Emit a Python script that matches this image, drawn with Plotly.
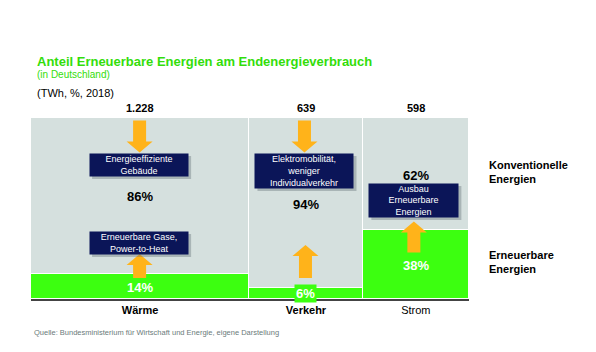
import plotly.graph_objects as go

# ---------------- data ----------------
sectors = ["Wärme", "Verkehr", "Strom"]
sector_labels = ["<b>Wärme</b>", "<b>Verkehr</b>", "Strom"]
totals_twh = [1228, 639, 598]
total_labels = ["1.228", "639", "598"]
renewable_pct = [14, 6, 38]
conventional_pct = [86, 94, 62]
measures_top = ["Energieeffiziente<br>Gebäude", "Elektromobilität,<br>weniger<br>Individualverkehr", None]
measures_bottom = ["Erneuerbare Gase,<br>Power-to-Heat", None, "Ausbau<br>Erneuerbare<br>Energien"]

# ---------------- styles ----------------
GREEN = "#3cff10"
GREY = "#d5e0de"
NAVY = "#0b1558"
ORANGE = "#ffb31a"
FONT = "Arial, Liberation Sans, sans-serif"

# cumulative positions for a Marimekko layout
lefts = []
acc = 0
for t in totals_twh:
    lefts.append(acc)
    acc += t
centers = [l + t / 2 for l, t in zip(lefts, totals_twh)]
total_sum = acc

fig = go.Figure()
fig.add_trace(go.Bar(x=centers, y=renewable_pct, width=totals_twh,
                     marker=dict(color=GREEN, line=dict(color="white", width=1)),
                     hoverinfo="skip", showlegend=False))
fig.add_trace(go.Bar(x=centers, y=conventional_pct, width=totals_twh,
                     marker=dict(color=GREY, line=dict(color="white", width=1)),
                     hoverinfo="skip", showlegend=False))

annotations = []
shapes = []

PLOT_TOP, PLOT_BOTTOM, PLOT_LEFT, PLOT_W = 118, 299, 31, 438
PLOT_H = PLOT_BOTTOM - PLOT_TOP

def ydata(ypx):
    return (PLOT_BOTTOM - ypx) / PLOT_H * 100

def ypaper(ypx):
    return (PLOT_BOTTOM - ypx) / PLOT_H

def arrow(xc, ytip_px, length, down):
    hw, hh, sw = 13, 11, 6.5
    s = -1 if down else 1
    pts = [(0, 0), (hw, -s * hh), (sw, -s * hh), (sw, -s * length),
           (-sw, -s * length), (-sw, -s * hh), (-hw, -s * hh)]
    path = "M " + " L ".join(f"{x},{y}" for x, y in pts) + " Z"
    shapes.append(dict(type="path", xref="x", yref="y", xsizemode="pixel", ysizemode="pixel",
                       xanchor=xc, yanchor=ydata(ytip_px), path=path,
                       fillcolor=ORANGE, line=dict(width=0), layer="above"))

def box(xc, yc_px, text, w, h):
    yc = ydata(yc_px)
    shapes.append(dict(type="rect", xref="x", yref="y", xsizemode="pixel", ysizemode="pixel",
                       xanchor=xc, yanchor=yc, x0=-w / 2 + 2, x1=w / 2 + 3, y0=-h / 2 - 3, y1=h / 2 - 2,
                       fillcolor="rgba(90,100,110,0.35)", line=dict(width=0), layer="above"))
    annotations.append(dict(x=xc, y=yc, xref="x", yref="y", text=text, showarrow=False,
                            width=w, height=h, bgcolor=NAVY, borderpad=0, align="center",
                            valign="middle", font=dict(family=FONT, size=9, color="white")))

px_per_twh = PLOT_W / total_sum

# arrows
arrow(centers[0] - 0.5 / px_per_twh, 152.5, 32, True)
arrow(centers[1] - 1.5 / px_per_twh, 152.5, 32, True)
arrow(centers[0] - 0.5 / px_per_twh, 254, 24, False)
arrow(centers[1] - 0.5 / px_per_twh, 245, 33, False)
arrow(centers[2] - 2 / px_per_twh, 221.5, 31, False)

# boxes
box(centers[0] - 1 / px_per_twh, 165, measures_top[0], 98, 22)
box(centers[1] - 1.5 / px_per_twh, 171, measures_top[1], 98, 34)
box(centers[2] - 2 / px_per_twh, 200.5, measures_bottom[2], 89, 33)
box(centers[0] - 1 / px_per_twh, 243, measures_bottom[0], 98, 22)

# percentage labels
conv_y = [196, 204, 175]
ren_y = [287, 293, 265]
for i in range(3):
    annotations.append(dict(x=centers[i], y=ydata(conv_y[i]), xref="x", yref="y",
                            text=f"<b>{conventional_pct[i]}%</b>", showarrow=False,
                            font=dict(family=FONT, size=13, color="black")))
    annotations.append(dict(x=centers[i], y=ydata(ren_y[i]), xref="x", yref="y",
                            text=f"<b>{renewable_pct[i]}%</b>", showarrow=False,
                            bgcolor=GREEN if renewable_pct[i] < 10 else None, borderpad=1,
                            font=dict(family=FONT, size=13, color="white")))
    annotations.append(dict(x=centers[i], y=ypaper(108), xref="x", yref="paper", yanchor="middle",
                            text=f"<b>{total_labels[i]}</b>", showarrow=False,
                            font=dict(family=FONT, size=11, color="black")))

# right-side legend labels
rx = (487 - PLOT_LEFT) / PLOT_W
annotations.append(dict(x=rx, y=ydata(171.5), xref="paper", yref="y", xanchor="left", align="left",
                        text="<b>Konventionelle<br>Energien</b>", showarrow=False,
                        font=dict(family=FONT, size=11, color="black")))
annotations.append(dict(x=rx, y=ydata(261.5), xref="paper", yref="y", xanchor="left", align="left",
                        text="<b>Erneuerbare<br>Energien</b>", showarrow=False,
                        font=dict(family=FONT, size=11, color="black")))

def px_annot(xpx, ypx, text, size, color, bold=False):
    xp = (xpx - PLOT_LEFT) / PLOT_W
    annotations.append(dict(x=xp, y=ypaper(ypx), xref="paper", yref="paper", xanchor="left", yanchor="middle",
                            text=f"<b>{text}</b>" if bold else text, showarrow=False,
                            font=dict(family=FONT, size=size, color=color)))

px_annot(35, 61, "Anteil Erneuerbare Energien am Endenergieverbrauch", 13, "#33dd0a", True)
px_annot(35, 74, "(in Deutschland)", 10, "#33dd0a")
px_annot(35, 93, "(TWh, %, 2018)", 11, "black")
px_annot(32, 332, "Quelle: Bundesministerium für Wirtschaft und Energie, eigene Darstellung", 7.5, "#6b7b7b")

fig.update_layout(
    width=596, height=352,
    margin=dict(l=PLOT_LEFT, r=596 - PLOT_LEFT - PLOT_W, t=PLOT_TOP, b=352 - PLOT_BOTTOM),
    paper_bgcolor="white", plot_bgcolor="white",
    barmode="stack", bargap=0,
    annotations=annotations, shapes=shapes,
    xaxis=dict(range=[0, total_sum], tickvals=centers, ticktext=sector_labels,
               tickfont=dict(family=FONT, size=11, color="black"), ticks="", ticklen=0,
               showline=True, linecolor="#444444", linewidth=1.5, showgrid=False, zeroline=False),
    yaxis=dict(range=[0, 100], visible=False, showgrid=False, zeroline=False),
)

fig.write_html("out.html")
